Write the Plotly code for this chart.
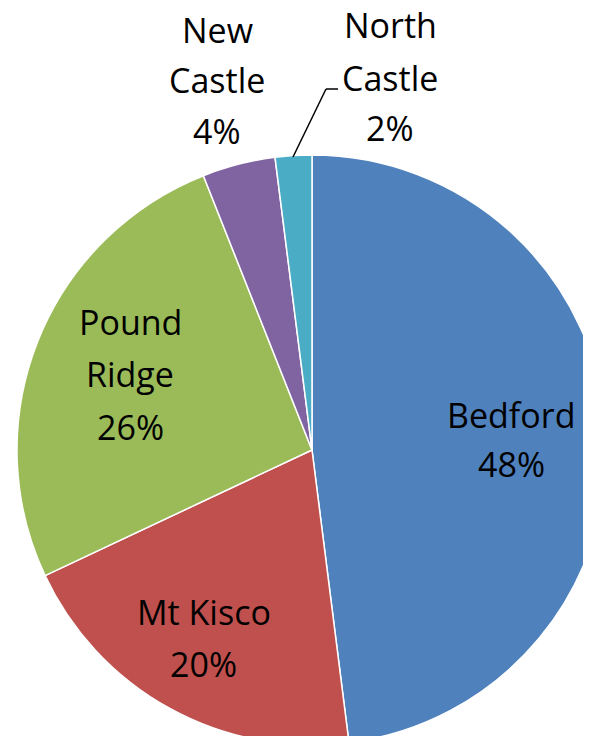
import plotly.graph_objects as go

labels = ["Bedford", "Mt Kisco", "Pound Ridge", "New Castle", "North Castle"]
values = [48, 20, 26, 4, 2]
colors = ["#4F81BD", "#C0504D", "#9BBB59", "#8064A2", "#4BACC6"]
label_lines = [["Bedford", "48%"], ["Mt Kisco", "20%"], ["Pound", "Ridge", "26%"],
               ["New", "Castle", "4%"], ["North", "Castle", "2%"]]

W, H = 620, 760
OFF = 8  # page body margin
cx, cy, r = 312 - OFF, 450 - OFF, 295  # pixel center (from top) and radius

fig = go.Figure(go.Pie(
    labels=labels, values=values, sort=False, direction="clockwise", rotation=0,
    marker=dict(colors=colors, line=dict(color="white", width=1.5)),
    textinfo="none", hoverinfo="label+percent", showlegend=False,
    domain=dict(x=[(cx - r) / W, (cx + r) / W], y=[(H - cy - r) / H, (H - cy + r) / H]),
))

# label placement (pixel centres of each line block)
label_pos = [(511, [416, 465]), (204, [613, 665]), (130, [323, 375, 428]),
             (217, [31, 81, 132]), (390, [26, 79, 129])]
for lines, (x, ys) in zip(label_lines, label_pos):
    for t, y in zip(lines, ys):
        fig.add_annotation(x=(x - OFF) / W, y=1 - (y - OFF - 1) / H, xref="paper", yref="paper",
                           text=t, showarrow=False, xanchor="center", yanchor="middle",
                           font=dict(family="Open Sans", size=34, color="black"))

# leader line for North Castle
pts = [(293, 157), (326, 89), (338, 89)]
for (x0, y0), (x1, y1) in zip(pts[:-1], pts[1:]):
    fig.add_shape(type="line", xref="paper", yref="paper",
                  x0=(x0 - OFF) / W, y0=1 - (y0 - OFF) / H,
                  x1=(x1 - OFF) / W, y1=1 - (y1 - OFF) / H,
                  line=dict(color="black", width=1.5))

fig.update_layout(width=W, height=H, margin=dict(l=0, r=0, t=0, b=0),
                  paper_bgcolor="white", plot_bgcolor="white")
fig.write_html("out.html")
